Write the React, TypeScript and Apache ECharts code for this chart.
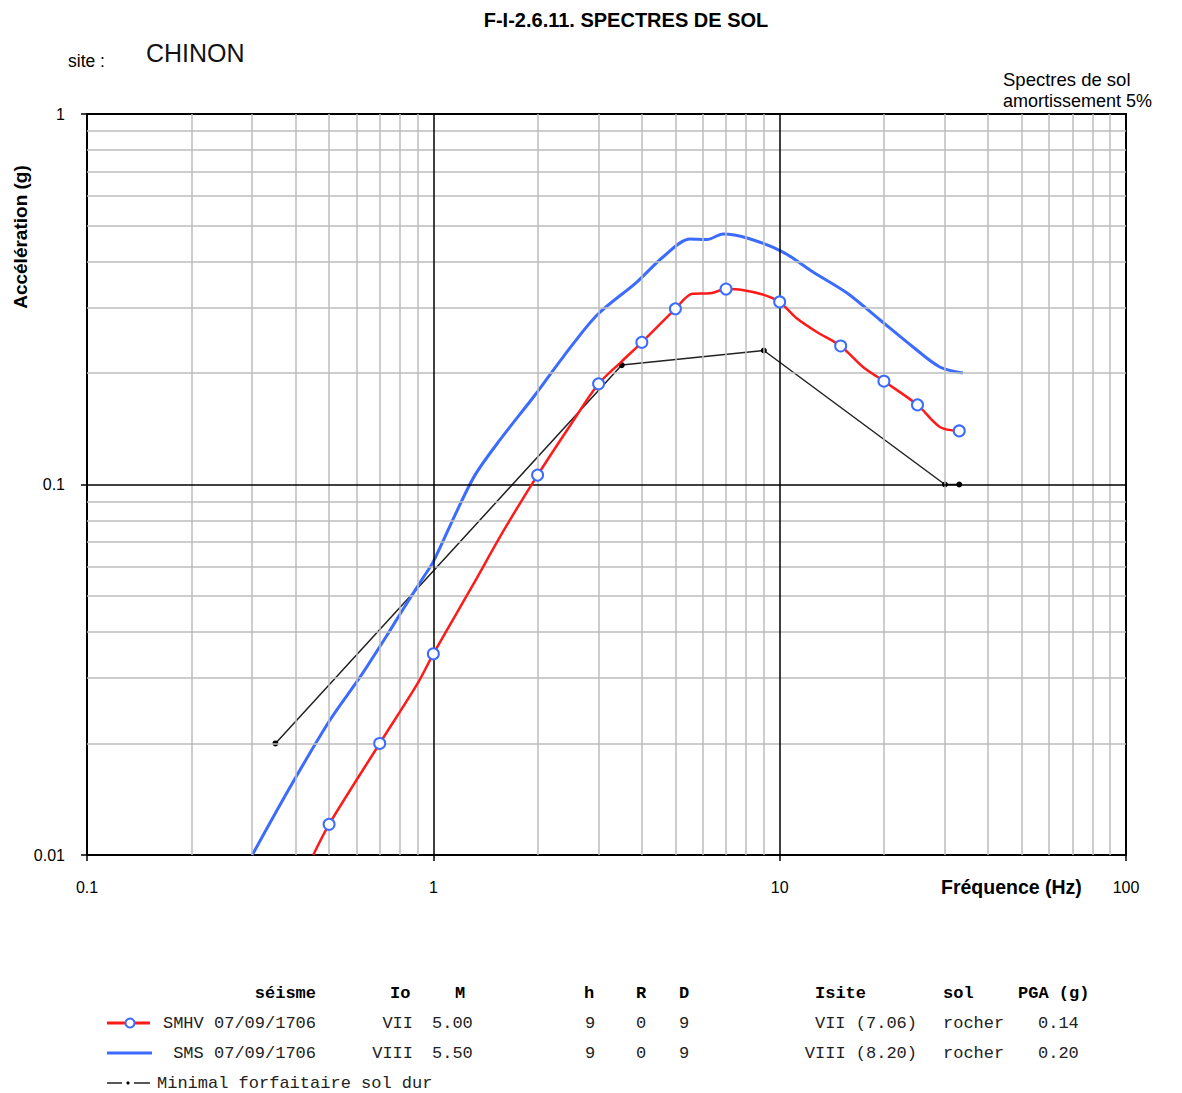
import React, { useEffect, useRef } from "react";
import * as echarts from "echarts";

// SMHV 07/09/1706 (red, with markers)
const smhvFreq = [0.45, 0.5, 0.7, 0.9, 1, 1.3, 1.6, 2, 2.5, 3, 3.5, 4, 5, 5.6, 6.3, 7, 7.8, 9, 10, 11.2, 12.8, 15, 17.4, 20, 25, 29, 33];
const smhvAcc = [0.01, 0.0121, 0.02, 0.029, 0.0349, 0.0535, 0.0754, 0.106, 0.1457, 0.187, 0.215, 0.242, 0.298, 0.327, 0.328, 0.337, 0.335, 0.325, 0.311, 0.281, 0.258, 0.2365, 0.2076, 0.19, 0.164, 0.143, 0.1395];
const smhvMarkerFreq = [0.5, 0.7, 1, 2, 3, 4, 5, 7, 10, 15, 20, 25, 33];

// SMS 07/09/1706 (blue)
const smsFreq = [0.3, 0.386, 0.503, 0.614, 0.735, 0.817, 0.934, 1, 1.155, 1.319, 1.557, 1.966, 2.369, 2.97, 3.87, 4.605, 5.51, 6.17, 6.86, 8.05, 10.22, 12.48, 15.65, 19.49, 24.27, 29, 33.8];
const smsAcc = [0.01, 0.01526, 0.02314, 0.0302, 0.0392, 0.046, 0.056, 0.0619, 0.0827, 0.106, 0.1319, 0.1744, 0.2208, 0.2868, 0.352, 0.4112, 0.4598, 0.4582, 0.4745, 0.4628, 0.424, 0.3746, 0.3288, 0.278, 0.235, 0.2076, 0.2];

// Minimal forfaitaire sol dur (black)
const minFreq = [0.35, 3.5, 9, 30, 33];
const minAcc = [0.02, 0.21, 0.23, 0.1, 0.1];

// grid ticks
const xMajorTicks = [1, 10];
const xMinorTicks = [0.2, 0.3, 0.4, 0.5, 0.6, 0.7, 0.8, 0.9, 2, 3, 4, 5, 6, 7, 8, 9, 20, 30, 40, 50, 60, 70, 80, 90];
const yMajorTicks = [0.1];
const yMinorTicks = [0.02, 0.03, 0.04, 0.05, 0.06, 0.07, 0.08, 0.09, 0.2, 0.3, 0.4, 0.5, 0.6, 0.7, 0.8, 0.9];

// table
const tableHeaders = ["séisme", "Io", "M", "h", "R", "D", "Isite", "sol", "PGA (g)"];
const tableRowSmhv = ["SMHV 07/09/1706", "VII", "5.00", "9", "0", "9", "VII (7.06)", "rocher", "0.14"];
const tableRowSms = ["SMS 07/09/1706", "VIII", "5.50", "9", "0", "9", "VIII (8.20)", "rocher", "0.20"];
const minimalLabel = "Minimal forfaitaire sol dur";

const headerCols: [number, string][] = [
  [316, "right"], [390, "left"], [455, "left"], [584, "left"], [636, "left"], [679, "left"], [815, "left"], [943, "left"], [1018, "left"],
];
const rowCols: [number, string][] = [
  [316, "right"], [413, "right"], [432, "left"], [585, "left"], [636, "left"], [679, "left"], [917, "right"], [943, "left"], [1038, "left"],
];

const SANS = "'Liberation Sans', Arial, sans-serif";
const MONO = "'Liberation Mono', 'Courier New', monospace";
const RED = "#ff1a1a";
const BLUE = "#3b6cff";

function fmt(v: number) {
  return String(Number(v.toPrecision(6)));
}

export default function App() {
  const ref = useRef<HTMLDivElement>(null);
  useEffect(() => {
    document.body.style.margin = "0";
    const chart = echarts.init(ref.current!, null, { renderer: "svg" });

    const texts: any[] = [];
    const t = (text: string, x: number, y: number, font: string, align = "left", fill = "#000") =>
      texts.push({ type: "text", x, y, style: { text, font, fill, align, verticalAlign: "middle" } });

    t("F-I-2.6.11. SPECTRES DE SOL", 626, 20, `bold 20px ${SANS}`, "center");
    t("site :", 68, 61, `17.5px ${SANS}`);
    t("CHINON", 146, 53, `25px ${SANS}`, "left", "#111");
    t("Spectres de sol", 1003, 79, `18.5px ${SANS}`);
    t("amortissement 5%", 1003, 101, `18px ${SANS}`);
    t("Fréquence (Hz)", 941, 887, `bold 19.5px ${SANS}`);
    texts.push({
      type: "text", x: 20, y: 237, rotation: Math.PI / 2,
      style: { text: "Accélération (g)", font: `bold 19px ${SANS}`, fill: "#000", align: "center", verticalAlign: "middle" },
    });

    const rowsY = [993, 1023, 1053, 1083];
    tableHeaders.forEach((h, i) => t(h, headerCols[i][0], rowsY[0], `bold 17px ${MONO}`, headerCols[i][1]));
    [tableRowSmhv, tableRowSms].forEach((row, r) =>
      row.forEach((c, i) => t(c, rowCols[i][0], rowsY[r + 1], `17px ${MONO}`, rowCols[i][1], "#222"))
    );
    t(minimalLabel, 157, rowsY[3], `17px ${MONO}`, "left", "#222");

    const legendShapes: any[] = [
      { type: "line", shape: { x1: 107, y1: 1023, x2: 150, y2: 1023 }, style: { stroke: RED, lineWidth: 3 } },
      { type: "circle", shape: { cx: 130, cy: 1023, r: 4.5 }, style: { fill: "#fff", stroke: BLUE, lineWidth: 2 } },
      { type: "line", shape: { x1: 107, y1: 1053, x2: 152, y2: 1053 }, style: { stroke: BLUE, lineWidth: 3 } },
      { type: "line", shape: { x1: 107, y1: 1083, x2: 122, y2: 1083 }, style: { stroke: "#222", lineWidth: 1.5 } },
      { type: "circle", shape: { cx: 128, cy: 1083, r: 1.6 }, style: { fill: "#000" } },
      { type: "line", shape: { x1: 134, y1: 1083, x2: 150, y2: 1083 }, style: { stroke: "#222", lineWidth: 1.5 } },
    ];

    const axisCommon = {
      type: "log" as const,
      logBase: 10,
      axisLine: { show: true, lineStyle: { color: "#000", width: 2 } },
      axisTick: { show: true, length: 6, lineStyle: { color: "#000", width: 1.5 } },
      splitLine: { show: false },
      minorTick: { show: false },
    };

    chart.setOption({
      animation: false,
      backgroundColor: "#fff",
      grid: { left: 87, top: 114, right: 56, bottom: 238, show: true, borderColor: "#000", borderWidth: 2, backgroundColor: "#fff" },
      xAxis: {
        ...axisCommon,
        min: 0.1,
        max: 100,
        axisLabel: { margin: 24, fontSize: 16, fontFamily: SANS, color: "#000", formatter: (v: number) => fmt(v) },
      },
      yAxis: {
        ...axisCommon,
        min: 0.01,
        max: 1,
        axisLabel: { margin: 22, fontSize: 16, fontFamily: SANS, color: "#000", formatter: (v: number) => fmt(v) },
      },
      graphic: [...texts, ...legendShapes],
      series: [
        {
          type: "line", data: [], z: 1, silent: true,
          markLine: {
            silent: true, symbol: ["none", "none"], label: { show: false },
            lineStyle: { color: "#bdbdbd", width: 1.5, type: "solid" },
            data: [...xMinorTicks.map((v) => ({ xAxis: v })), ...yMinorTicks.map((v) => ({ yAxis: v }))],
          },
        },
        {
          type: "line", data: [], z: 2, silent: true,
          markLine: {
            silent: true, symbol: ["none", "none"], label: { show: false },
            lineStyle: { color: "#000", width: 1.5, type: "solid" },
            data: [...xMajorTicks.map((v) => ({ xAxis: v })), ...yMajorTicks.map((v) => ({ yAxis: v }))],
          },
        },
        {
          name: "Minimal forfaitaire sol dur", type: "line", z: 3,
          data: minFreq.map((f, i) => [f, minAcc[i]]),
          symbol: "circle", symbolSize: 6, showAllSymbol: true,
          itemStyle: { color: "#000" },
          lineStyle: { color: "#222", width: 1.5 },
        },
        {
          name: "SMS 07/09/1706", type: "line", z: 4,
          data: smsFreq.map((f, i) => [f, smsAcc[i]]),
          symbol: "none", smooth: 0.3,
          lineStyle: { color: BLUE, width: 3 },
        },
        {
          name: "SMHV 07/09/1706", type: "line", z: 5,
          data: smhvFreq.map((f, i) => ({ value: [f, smhvAcc[i]], symbol: smhvMarkerFreq.includes(f) ? "circle" : "none" })),
          symbolSize: 11, showSymbol: true, showAllSymbol: true, smooth: 0.3,
          itemStyle: { color: "#fff", borderColor: BLUE, borderWidth: 2 },
          lineStyle: { color: RED, width: 2.5 },
        },
      ],
    });
    return () => chart.dispose();
  }, []);
  return <div ref={ref} style={{ width: 1182, height: 1093 }} />;
}
